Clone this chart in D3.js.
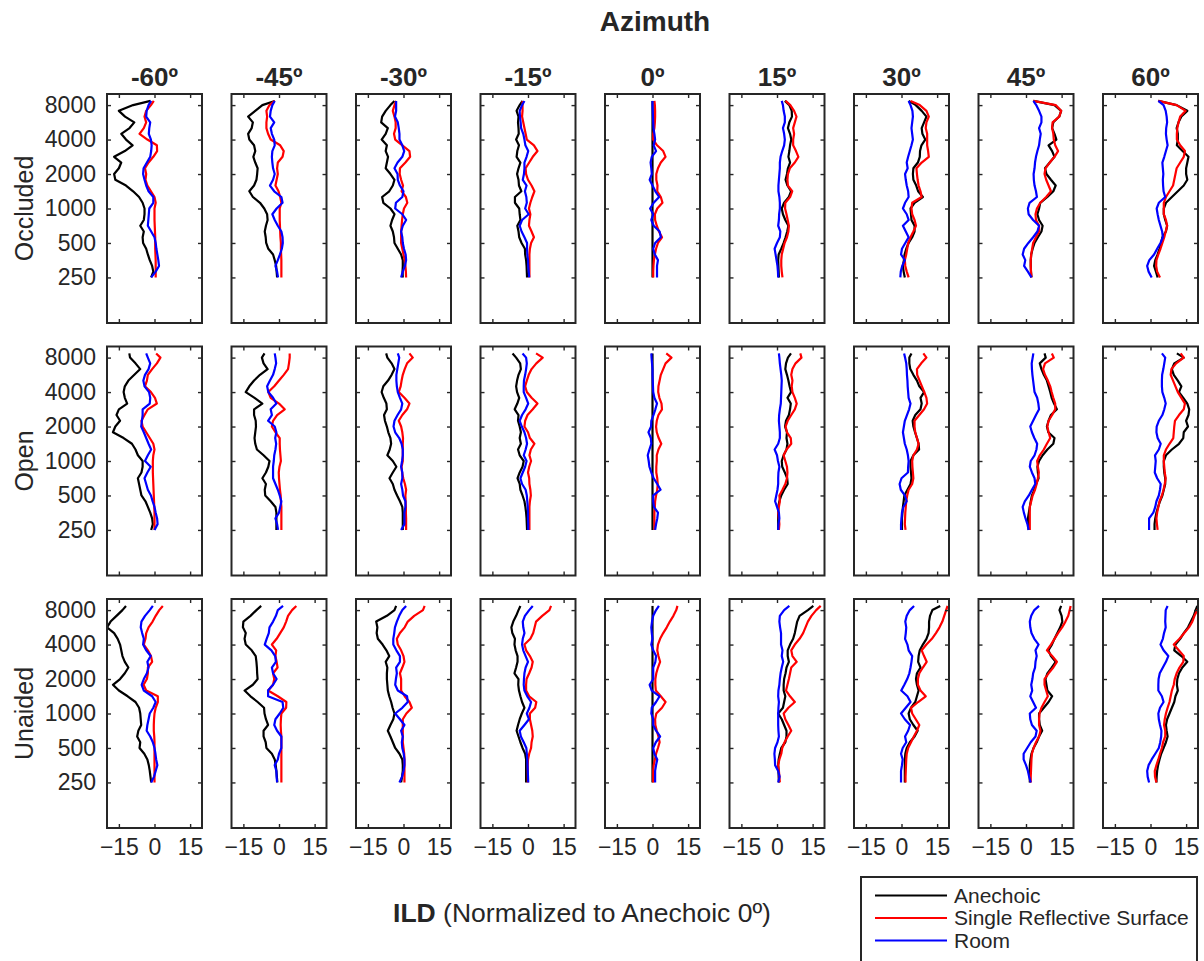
<!DOCTYPE html>
<html>
<head>
<meta charset="utf-8">
<script src="https://cdn.jsdelivr.net/npm/d3@7"></script>
<style>
  body { margin: 0; background: #fff; }
  svg { display: block; }
  text { font-family: 'Liberation Sans', Arial, Helvetica, sans-serif; fill: #262626; }
</style>
</head>
<body>
<svg id="chart" width="1204" height="961"></svg>
<script>
// Frequencies (Hz), listed from the top of each panel down to 250 Hz (1/6-octave steps)
const frequencies = [8700, 8000, 7127, 6350, 5657, 5040, 4490, 4000, 3564, 3175, 2828, 2520,
  2245, 2000, 1782, 1587, 1414, 1260, 1122, 1000, 891, 794, 707, 630, 561, 500, 445, 397, 354, 315, 281, 250];

const azimuths = ["-60º", "-45º", "-30º", "-15º", "0º", "15º", "30º", "45º", "60º"];
const conditions = ["Occluded", "Open", "Unaided"];
const environments = ["Anechoic", "Single Reflective Surface", "Room"];
const envColors = ["#000000", "#ff0000", "#0000ff"];
const xTicks = [-15, 0, 15];
const yTicks = [250, 500, 1000, 2000, 4000, 8000];

const zeros = frequencies.map(() => 0);

// ILD in dB, one array per azimuth (-60º ... 60º), same order as `frequencies`
const occludedAnechoic = [
  [-1.7,-9,-15,-12.4,-8.5,-10.5,-14,-12,-9.2,-12.5,-17,-14,-15,-17,-16.5,-12,-9,-6.5,-5,-4.2,-4.2,-4.5,-6,-4.5,-5,-4.8,-3.5,-2.8,-2,-1,-0.5,-1.4],
  [-1.8,-7,-10,-13,-11,-11.5,-13,-12.5,-10.5,-10,-10.8,-10,-9,-9.2,-9.5,-10.5,-12.5,-11,-8,-6.2,-5,-4.8,-5.5,-6,-5.6,-5.4,-4.5,-2.5,-1.8,-1.2,-1,-0.8],
  [-3.8,-5.5,-7.5,-9,-9.4,-6.6,-7.5,-9.2,-7,-7.5,-6.5,-7,-7.5,-5.5,-3.8,-4.5,-6,-9,-8.5,-5.5,-3.8,-4.8,-5.5,-4.5,-4,-3.8,-2.4,-1,-0.3,-0.3,-0.4,-0.3],
  [-2.3,-3.5,-4.8,-4,-4.2,-4,-3.9,-5,-3.8,-4.5,-4.8,-3.2,-4,-4.6,-4,-3.8,-2.8,-5.5,-5.5,-3.7,-3.5,-3.2,-4.5,-4,-3.7,-2.7,-1.3,-1.2,-0.8,-0.6,-0.5,-0.4],
  zeros,
  [3.3,5.2,6.2,6.3,5.2,4.6,5.5,6,5.5,5.2,4.8,5.5,4.6,4.2,3.6,4.4,5.9,5,3,2,2.5,3.5,4.8,4.3,3.6,2.8,1.8,0.7,0.5,0.6,0.7,0.8],
  [3,6,8.5,10.5,9.5,8.5,8.8,10,8.4,7.8,7.7,6.9,5,4.8,5,6.2,7,9,5.5,3.8,4,4.2,5.5,5.5,4.5,3,2,1.3,1,0.6,0.9,1.4],
  [3.1,12,14.8,14,11.5,11,12,12.8,9.5,11,12,10,8,8.6,10.5,12.5,11.5,9,6,5.5,4.8,5.5,7,6.5,5,3.6,2.8,2.2,2,2,2.1,2.3],
  [3.3,11,15.5,13,11.8,11,11.5,11.5,11.1,13.5,16,15.5,15,15,15.5,14,11.5,9,6.5,5.6,5.6,6.2,7,6.5,5,4.5,3.8,3,2,1.5,2.3,3]
];
const occludedReflective = [
  [-0.3,-1.5,-3.5,-4.2,-3.5,-4.5,-6.3,-3,1,1.1,-0.5,-2.5,-4,-3.5,-3.8,-3,-1.5,0,0.5,0,0,0,0.1,0.2,0.3,0.3,0.3,0.4,0.5,0.5,0.5,0.5],
  [-1.8,-4,-5.3,-5,-5.3,-5.3,-4.6,-3.5,0.5,2,1.5,-0.5,-0.8,-0.5,-1,-1.5,-0.2,0.5,1,0.3,0.3,0.3,0.4,0.5,0.6,0.8,0.8,0.9,1,1,1,1],
  [-3.1,-3.8,-4.5,-3.8,-3.3,-3.3,-4,-3.5,-0.5,2.5,2.8,0.8,-1.5,-1.6,-1,-0.2,-0.8,1,1.6,0.2,-0.3,-0.6,-0.8,-1,-1,-1,-0.5,0,0.5,0.8,1,1.1],
  [-2.3,-2.3,-2.3,-2.5,-2,-1.5,-1,-0.5,2.5,4,2,0.5,-1,-0.8,0,1.5,2.7,1.8,1,0.4,1,0.6,0.4,1.5,2.5,1.3,0.8,0.6,0.6,0.6,0.6,0.6],
  [0.8,1,1.1,1.1,1,0.8,0.3,0.3,1.9,4.5,5.5,3.5,2.3,1.6,1.6,2.1,2,3.5,4.2,2,1,1.1,1.8,2.7,4,2.3,1.5,1,0.6,0.4,0.3,0.3],
  [3.6,5.6,7.2,8.2,7.5,6.8,7.2,6.8,6.8,8,9,7.5,5.4,4.6,4.4,4.6,6.4,5.5,3.5,3.4,4,4.5,5,4.8,4.2,3.2,2.6,2,1.8,1.8,2,2.3],
  [3.8,7.7,10.5,11.5,10.5,10.2,10.8,10.8,10.8,11.2,11.5,8.5,6.3,6.5,6.8,7.2,8,8.5,4.5,4.2,4.5,5.5,6.1,5,3.8,2.8,2.4,2,1.4,1.6,2.2,3],
  [3.1,12.5,14.8,14,11.2,11,11.5,11.7,12.3,13.5,12,10,8.2,7.8,8.5,9.5,10.5,8.5,6,4.6,4,4.2,5.5,5.5,4.2,3,2.6,2.2,2,2,2.1,2.3],
  [3.3,11,14.8,12.5,11.8,11.3,11.1,11.1,12.5,14.5,14,12.5,11,10.5,10,9.5,8,6.5,5.6,5.6,5.6,6.5,7,6.4,5.8,5,4.2,3.3,2.5,2.4,2.8,4]
];
const occludedRoom = [
  [-1.4,-2.5,-3.3,-3.5,-1.8,-2.2,-2.4,-1.5,-1.2,-1.4,-1.8,-3.2,-4.6,-4.8,-4.2,-3.5,-2.5,-0.5,-0.5,-2.2,-2.4,-2.6,-2.8,-1.4,0,0.5,0.8,1.2,1.6,1.9,0.5,-1.4],
  [-1.8,-2.8,-3.5,-3.8,-2,-3.5,-3,-2,-1.8,-2.8,-3,-2.8,-2.5,-1.8,-2.5,-3.8,-2,1,1.5,-1,-2.8,-1.8,-0.5,1,1.5,1.6,1.2,0.4,-0.5,-1.5,-0.8,-0.4],
  [-3.1,-3.1,-3.1,-3.6,-2.4,-2,-1.7,-1.7,-0.5,0.3,-0.5,-2.5,-3.8,-2.5,-2.4,-1.5,0,-0.5,-3.2,-3.5,-0.5,1.1,-0.3,-1,-0.5,-0.3,0.2,0.9,1.1,0.6,-0.3,-1],
  [-1.5,-2.5,-3.5,-3.4,-3.1,-2.9,-2,-1.5,-1.1,0.1,-0.6,-1.5,-1.5,-1.7,-2.2,-0.6,-1.3,-0.7,-0.5,-1.2,0.3,-2.5,-3.5,-2.7,-1.5,-0.4,-0.4,-0.3,0,0.1,0.3,0.5],
  [0,0,0.1,0.2,0.3,0.4,0.8,1.1,0.5,1.5,-0.3,-0.8,-0.5,-0.3,-1.2,0,1.2,2.8,0.5,-1,0.3,-0.5,0.5,3,3.5,1.1,0.3,1,2.3,1.9,1.9,1.9],
  [2,2.5,2.8,3.3,3.3,2.5,3,3.3,3,2.2,1.5,1.2,1.2,1,0.8,0.6,0.6,1,1.2,1.2,0.9,0.8,0.5,1.4,1.2,0,-1,-0.6,-0.2,0.2,0.4,0.5],
  [3,3.8,4.6,4.8,4.5,4.2,4.5,4.8,4.2,3.5,2.8,2.2,2.6,1.5,1.8,2.2,2.8,3,1.5,0.6,2.2,3,0.6,1.8,3,1.6,0.2,-0.2,1.4,0.3,-0.3,-0.5],
  [3.1,4.3,5.5,6.5,6.5,5.5,6.2,5.8,5.5,4.8,4.2,3.8,3.6,3.2,3.3,3.6,4.2,4.6,1.5,0.8,1.1,3,5.5,4.8,3,1,-0.8,-1.4,-0.3,-0.8,0.8,2.3],
  [3.3,5.5,6.4,6.8,7,6.6,6.5,6.8,7.2,6.5,5.8,5,5.2,5.4,5.2,5.3,5.5,6.2,3.5,2.6,3,3.5,4.2,4.9,5.2,4.2,2.8,1.5,-0.5,-1.4,-0.8,0.5]
];

const openAnechoic = [
  [-10.6,-10.3,-8,-6,-8.5,-11,-12.5,-13,-12.5,-11.5,-15,-16,-14.5,-16.5,-17.5,-13,-9.5,-8,-7,-5,-5,-5.5,-7,-6.5,-6,-5.5,-3.8,-2.8,-1.8,-1,-0.7,-1.4],
  [-6.1,-7.2,-6.5,-4.8,-8,-10.5,-12.5,-14,-10.3,-7,-10.5,-10.5,-9.8,-9.7,-10,-10.3,-10,-9.3,-6.5,-4,-4.5,-5.5,-7,-5.5,-6,-5.8,-3.5,-1.5,-1.1,-1.1,-1.1,-1.1],
  [-7.3,-6.8,-5,-3.8,-5,-6.5,-8.5,-9.2,-8.3,-7.2,-7,-8.2,-7.8,-7,-6.4,-5.5,-5.2,-5.8,-6.8,-4.5,-3,-4.5,-5.9,-4.5,-3.8,-2.7,-1.5,-0.5,-0.3,-0.3,-0.3,-0.3],
  [-6.5,-5,-3.3,-3,-4,-4.6,-5,-4.6,-3.7,-4.5,-5.6,-4,-4.2,-3.5,-3,-3.5,-3,-4.2,-3.5,-1.8,-2.3,-3.5,-4.4,-3.5,-3.2,-2.3,-1.5,-1.1,-0.8,-0.6,-0.5,-0.4],
  zeros,
  [5.9,4.6,3.8,3.5,4.2,4.8,5.3,5.9,4.4,5.8,5.5,5,3.8,3.4,4.2,4,4.4,4,2.8,2,2.2,3.3,4.3,4.5,3,1.8,1,0.5,0.5,0.5,0.5,0.5],
  [4.2,3.3,3.3,3.7,5,6.5,7.5,9.5,8,8.5,8,5.8,4.7,5,5.7,6.5,7.2,7.4,5,3.8,3.8,4,4.2,3.8,2.5,1.2,0.9,0.6,0.4,0.2,0.2,0.2],
  [7.8,8.3,5.8,6.5,7.5,8.8,9.5,10.2,10.8,11.8,13,10.5,9.5,8.8,9.4,12,11.5,9,7,5.5,4.8,5,5.3,4.2,3.5,2.5,2,1.6,1.2,0.8,1,1.1],
  [11.1,14,10,9,9.8,11.5,13,12,13.8,15.5,16.3,16,15,15.8,14,13.8,12,9,6.5,5.6,5.6,5.8,6.2,6.2,5.6,5,4,3.2,2.5,2,1.7,1.7]
];
const openReflective = [
  [0.7,2.5,1,-1,-2.8,-3.2,-4,-1.5,0.2,1,-2.8,-4.2,-5.5,-5,-3.5,-2,-0.5,0,-0.5,-0.7,-0.7,-0.7,-0.6,-0.5,-0.4,-0.3,-0.2,-0.1,0,0,0,0],
  [4.5,4.5,4.2,3.8,2,0,-2,-4.5,-3.5,0,2.4,-0.8,-2.5,-3,-1.5,0.3,0.3,0.4,0.6,0.8,0.2,-0.1,0,0.2,0.4,0.7,0.8,1,1,1,1,1],
  [2.5,3.9,1.5,0.5,-0.3,-0.8,-1.2,-2,0.4,2.5,1.5,-0.5,-2,-1,-0.5,-0.2,-0.3,-0.3,-0.3,-0.3,-0.8,-0.6,-0.1,0.6,1.1,0.8,0.9,1,1,1.1,1.1,1.1],
  [3.4,6.2,3.5,1.5,0.3,-0.5,-1.2,-0.5,1.5,4,2,-0.2,-1.2,-1.5,0,0.8,2.7,1.2,0.6,1.3,0.5,0,0.5,0.6,1,1.2,0.8,0.6,0.6,0.6,0.6,0.6],
  [5.8,8,5.5,4.5,3.5,3,2.5,2.4,2.9,3.8,4,2.5,1.8,1.5,1.8,2.6,3.7,2.5,1.8,1.8,1.6,1.6,2,2.2,2,1.5,1.1,1,0.8,0.8,0.8,0.8],
  [9.8,10.3,7.8,6.5,6,6.5,6.2,6.5,7.5,8.3,7.5,6,4.5,3.6,4.2,5.8,6,4,2.8,3.5,4.2,4.4,4.2,3.5,2.3,1,1.2,0.8,0.5,0.8,1,0.8],
  [9.2,10.5,8.3,6.5,6.6,7.6,8.6,9.6,10.5,10.8,9.5,7.5,5.5,5.5,5.8,6.5,7.2,6.5,5,4.5,4.6,4.8,5,4.5,3,2.4,2,1.8,1.6,1.5,1.4,1.7],
  [10.9,11.7,8,7.2,8,9.2,10.2,10.8,11.5,12.3,12.3,11,9.5,9,9.5,10.2,8.8,7.5,5.8,4.7,5,5.4,5,4.5,3.8,2.8,2.2,1.6,1.6,1.6,1.6,1.6],
  [12.7,14,10.8,8.8,8.5,9.5,10.5,11.5,13,14.5,14,12,10.3,10,9.8,9.6,8,6.5,5.6,5.6,5.8,6,6.4,6,5.5,4.8,3.8,3.3,2.8,2.5,2.7,3]
];
const openRoom = [
  [-3.5,-2.8,-1.8,-2.5,-4,-4.7,-4.2,-2.3,-1.8,-2,-5,-5,-5.3,-5.6,-4.5,-3.5,-2.5,-1.4,-2.8,-4,-1.6,-3,-4.2,-3.5,-2.8,-1.5,-0.8,0,0.5,1.1,1.3,0],
  [-1.8,-1.5,-1.2,-1.8,-2.5,-3.8,-5,-4.5,-2.5,-1.1,-3.5,-3,-4.6,-1.8,-1.1,-1.6,-1.2,-1.5,-2,-2.2,-2.5,-2.5,-2.5,-1.5,-0.5,0.3,1,0.5,0,-1.5,-0.8,-0.4],
  [-2.4,-1.8,-2.2,-2.6,-3,-3,-2.8,-2.4,-1.5,-0.5,-1,-2.5,-3.8,-4.2,-3.5,-1.8,-0.8,-0.3,-0.3,-0.6,-1,-0.5,-0.5,-1,-0.5,-0.2,0.8,0.8,0.4,0.4,0.4,-1],
  [-2.3,-0.8,-0.5,-0.8,-1.2,-1.7,-1.8,-1.8,-0.8,0.1,-1,-2.5,-3.5,-2.6,-1.5,-0.8,-0.4,-1,-1.8,-0.6,-1.2,-2.2,-3.2,-2.5,-1,-0.5,-0.3,-0.1,0,0,0.1,0.1],
  [-0.5,-0.4,-0.2,0,0,0.1,0.2,0.3,0.8,1.9,1.2,0.4,-0.5,-0.6,-1.7,-0.7,-0.5,-1.3,-2,-1.6,-1.3,-0.5,0.5,2,3.4,0.3,0.3,0.6,2.3,2,1.5,1.1],
  [0.8,1,1.2,1.5,1.8,2,1.9,1.8,1.7,1.6,1.2,0.9,0.8,1,1.2,1.2,0.5,-1,0,0.4,1,0.6,0.5,0.5,0.2,-0.3,-0.8,0,0.8,1,0.6,0.5],
  [1.1,1.5,2,2.2,2.3,2.5,2.6,2.8,3,3.8,3.2,2.3,1.4,1,0.6,1,1.4,2.2,2.7,3,2.8,2.7,0,-0.8,-0.3,1.4,2.2,0.8,0.2,0,-0.2,-0.2],
  [3.1,2.8,2.4,2.5,2.7,3,3.3,3.6,4.7,5.2,5.5,4.2,3,1.8,2.5,3.5,4.7,4.4,3.6,2,1.6,2.5,3.6,3.9,2.5,1.2,-0.5,-1.4,-0.9,-0.2,0.6,1.1],
  [4.8,6.2,5.8,5.4,4.9,4.8,4.8,5,5.8,6.4,5.8,5,3.5,2.6,2.5,3,4.3,3.5,1.9,2.2,2,1.8,2.8,4.3,4,3.5,2.5,2,1.2,-0.6,-0.6,-0.6]
];

const unaidedAnechoic = [
  [-12,-13.5,-16,-18.5,-20,-17,-15.5,-14.5,-14,-13.5,-12.5,-11,-12.5,-14.5,-17.5,-15,-11.3,-8,-6.5,-6,-5.8,-5.6,-6.8,-7.3,-6,-6.3,-4.3,-3,-2.4,-2,-1.7,-1.4],
  [-7.5,-9.5,-12,-15,-15.2,-14,-14.5,-14,-11.5,-9.8,-9.5,-9.3,-9.2,-9,-11,-14.5,-12,-9,-6.3,-6.1,-5.5,-4.6,-6.5,-6.5,-5.6,-5.3,-3,-1.8,-1.4,-1.1,-0.9,-0.7],
  [-3.1,-3.8,-7,-11.5,-11,-11.3,-10.8,-8.8,-7.2,-6,-7.5,-6.8,-7,-7,-6.8,-6.6,-6,-5.2,-4.6,-3.8,-4.3,-5.5,-6.6,-5.5,-4.5,-3.5,-1.7,-0.5,-0.3,-0.3,-0.6,-1],
  [-3.2,-4,-5,-6.2,-7,-6.6,-5.5,-5.7,-5.2,-4.4,-4.4,-5,-5.7,-4,-4.1,-3.8,-3.2,-2.5,-1.5,-2.6,-3.5,-4.2,-4.8,-4,-3.2,-2.3,-1.2,-0.8,-0.8,-0.8,-0.8,-0.8],
  zeros,
  [15.3,13,9.5,8.5,8,7.5,6.8,5.5,4.5,4.5,5,4,3.6,3,2.8,2.8,3.5,3,2.5,0.5,2,3,4,4,3.5,1.8,1.2,0.7,0.5,0.6,0.7,0.8],
  [16.3,13,12,11.6,11.6,11.4,10.5,9,7.7,7.2,7,8,6.5,6.1,6.5,7.2,6.5,5.8,4,3,3.5,5,6.8,5.5,3.5,2.2,1.6,1.4,1.4,1.4,1.4,1.4],
  [14.8,14.1,15,15.3,14.4,13.2,12,10.9,9.4,10.5,12.5,10.8,9,8.2,8.6,9,11,9.5,7.5,5.5,5.5,5.8,6.8,5.5,4.5,3.2,2.3,1.9,1.6,1.6,1.6,1.6],
  [19.7,19,18.2,17,15.8,14,12.5,10.5,10,13,15.5,13.4,12,11.3,11.1,11.5,10.5,10,9,8,7,6.5,6.8,7.2,6.5,5.5,4.5,3.8,3.2,2.8,2.6,2.5]
];
const unaidedReflective = [
  [3.5,2,0.5,-0.8,-2.5,-3.5,-3.8,-4.5,-2.8,-1.5,-1,-2.8,-2.8,-3.2,-4.6,-3.5,1.4,1.4,0.5,0,-0.2,-0.3,-0.3,-0.1,0,0,0,0,0,0,0,0],
  [7.3,5.5,3.8,3,2,0.5,-1,-3,-1.2,-1.5,-1,-0.6,-2.5,-2,-2.5,-4.6,-0.5,3.1,3,1,0.8,0.7,0.8,1,1,1,1,1,1,1,1,1],
  [8.9,8.2,4.5,1.8,0.5,-1.5,-2.8,-2.4,-1,0,0.4,-0.5,-1.5,-1,-1,-1,0.5,2.5,3.5,1.2,-0.3,-0.3,-0.3,-0.3,-0.3,0,0.3,0.4,0.4,0.4,0.4,0.4],
  [9.7,9,6,3.4,2.8,2.2,1,-1.5,-0.8,0.8,2,1.5,0.5,-0.6,-0.8,-0.8,0.5,3.5,3,0.8,0.8,1.3,1.8,2,1.5,1.3,0.5,0,-0.1,-0.1,-0.1,-0.1],
  [10.5,10,8.8,7.3,6,4.5,3.2,2.3,2,2.5,3.2,2.3,1.6,1.2,1.2,1.4,3.5,5.5,4,1.6,1.1,1.2,1.8,2.5,3,2.3,1.5,1,0.5,0.3,0.3,0.3],
  [18.4,16.5,14.5,13,12,11,9.5,7.5,6,6.5,8.3,6,5.5,5,4.4,3.8,5.5,7.5,4.8,2.8,3.5,4.8,6,4.5,3.2,2.2,1.8,1,0.5,0.8,1,1.2],
  [19.4,18.8,18,17.2,16,14.5,12.8,10.5,8.5,9.5,10.6,9,7.5,6.9,6.9,8,10.2,7,4,4.5,6,7.5,6.5,5.2,4,2.8,2.2,2,1.9,1.8,1.7,1.7],
  [18.8,18.4,17.8,16.6,15.2,13.5,12,10.5,8.8,11,13,11.5,9.5,7.8,7.8,8.5,9.2,7.8,6.5,5.7,5.5,5.5,6.1,5.5,4.2,3.2,2.5,2.3,2.2,2.1,2,2],
  [20.5,19.7,18.5,17.6,16.2,14.2,12.2,9.8,11.9,14,13.8,12.2,11,10.2,9.8,9,8.5,8,7.2,6.5,6,5.7,6.2,6.2,5.3,4.8,4,3.3,2.5,1.8,1.9,2.5]
];
const unaidedRoom = [
  [-0.7,-2,-4,-5.5,-5.8,-5.2,-4.5,-4.8,-3.5,-1.6,-3,-2.5,-3.2,-4.5,-5.4,-4.5,-1,0.5,-0.5,-2,-2.5,-3,-3.3,-1.8,-0.7,0,0.4,0.7,1.2,0.5,-0.2,-1.4],
  [1.7,-0.5,-1.3,-2.5,-4,-4.3,-5.2,-6,-3.2,-1.6,-1.3,-3,-2.5,-1,-2.5,-4.6,-4.6,1.5,1.8,0.3,-1.5,-2,-0.8,1,1,1,0,-0.5,-1.8,-1.1,-1,-0.8],
  [1.1,-0.5,-1.8,-2.8,-3.6,-3.9,-4.3,-4.3,-3,-1.5,-1.5,-3.1,-2.8,-3.2,-3.5,-2.4,1.5,1.8,-0.5,-3.5,-1.5,0.4,-1,-0.3,-0.7,-0.5,0.1,0.4,0.4,0,-0.6,-1.7],
  [2,0.5,-1.3,-2.2,-2,-1.5,-2.2,-2.5,-2,-1,0,-1,-1.5,-1.7,-1.8,-1.5,-0.3,1.3,0.6,-0.5,0.4,-1.5,-3.5,-3,-1.8,-0.7,-0.5,-0.3,-0.2,-0.1,0,0.1],
  [2.7,1.5,0.3,-0.2,-0.5,-0.3,0,-0.5,0.3,1.5,1.2,0.3,0.3,0.3,-1.2,-0.3,3,1.5,-0.3,-0.5,0.3,0.3,1.5,3.2,1.4,0.3,0.8,2,1.5,1.1,1.1,1.1],
  [5.2,3,1.2,1,1.3,1.7,1.7,1.7,2.3,2,2.6,2,1.5,1.2,1,0.6,0.5,0.8,0.6,0.5,0.5,0.5,0.6,0.8,0.2,-0.8,-1.1,-0.9,-0.8,0.5,1.1,0.5],
  [5.3,3.5,2.2,1.6,2,1.8,1.5,2.5,3,4.5,4.2,3.8,3.3,2.4,1.2,-0.1,2.5,3.8,1.8,-0.2,1.4,3.6,2.8,1.5,2,0.5,-0.2,0.5,0.2,-0.2,-0.2,-0.2],
  [5.5,3.5,2.2,1.6,1.8,2.3,3.5,5.3,4,4.5,4,3.8,3,2.7,2.2,2.6,1.8,3,4.2,1.6,1.8,2.5,4.5,4,2,0.5,-1,-1,0,0.8,1.3,2],
  [7.2,6.4,6.3,6.2,6.4,5.7,5.2,4.2,5.5,7.5,6.5,5.2,3.9,3.4,3.3,3.3,4.8,5.5,4,3.3,3.5,4,4.6,4.5,4.1,3.5,2,0.5,-0.8,-1.4,-1.2,-0.6]
];

// condition -> [anechoic, reflective, room]
const ildByCondition = {
  Occluded: [occludedAnechoic, occludedReflective, occludedRoom],
  Open: [openAnechoic, openReflective, openRoom],
  Unaided: [unaidedAnechoic, unaidedReflective, unaidedRoom]
};

// ---- layout ----
const svg = d3.select("#chart");
const panelW = 95, panelH = 229;
const colLeft = c => 107 + c * 124.5;
const rowTop = r => 94 + r * 252.5;
const axisColor = "#262626";

const x = d3.scaleLinear().domain([-20, 20]).range([0, panelW]);
const y = d3.scaleLog().domain([100, 10000]).range([panelH, 0]);

svg.append("defs").append("clipPath").attr("id", "panel-clip")
  .append("rect").attr("x", 0).attr("y", 0).attr("width", panelW).attr("height", panelH);

const line = d3.line()
  .x(d => x(d[1]))
  .y(d => y(d[0]));

function styleAxis(g) {
  g.select(".domain").remove();
  g.selectAll(".tick line").attr("stroke", axisColor).attr("stroke-width", 1.4);
  g.selectAll(".tick text").attr("fill", axisColor)
    .style("font-family", "'Liberation Sans', Arial, Helvetica, sans-serif")
    .style("font-size", "23px");
}

conditions.forEach((cond, r) => {
  azimuths.forEach((az, c) => {
    const g = svg.append("g").attr("transform", `translate(${colLeft(c)},${rowTop(r)})`);

    const plot = g.append("g").attr("clip-path", "url(#panel-clip)");
    ildByCondition[cond].forEach((seriesSet, s) => {
      const pts = frequencies.map((f, i) => [f, seriesSet[c][i]]);
      plot.append("path")
        .attr("d", line(pts))
        .attr("fill", "none")
        .attr("stroke", envColors[s])
        .attr("stroke-width", 2.2)
        .attr("stroke-linejoin", "round");
    });

    // ticks on all four sides, pointing inwards
    g.append("g")
      .call(d3.axisLeft(y).tickValues(yTicks).tickSize(-4).tickPadding(11)
        .tickFormat(c === 0 ? d3.format("d") : () => ""))
      .call(styleAxis);
    g.append("g").attr("transform", `translate(${panelW},0)`)
      .call(d3.axisRight(y).tickValues(yTicks).tickSize(-4).tickFormat(() => ""))
      .call(styleAxis);
    g.append("g").attr("transform", `translate(0,${panelH})`)
      .call(d3.axisBottom(x).tickValues(xTicks).tickSize(-4).tickPadding(11)
        .tickFormat(r === conditions.length - 1 ? d3.format("d") : () => ""))
      .call(styleAxis);
    g.append("g")
      .call(d3.axisTop(x).tickValues(xTicks).tickSize(-4).tickFormat(() => ""))
      .call(styleAxis);

    g.append("rect")
      .attr("width", panelW).attr("height", panelH)
      .attr("fill", "none").attr("stroke", axisColor).attr("stroke-width", 2);

    if (r === 0) {
      svg.append("text")
        .attr("x", colLeft(c) + panelW / 2).attr("y", 86)
        .attr("text-anchor", "middle")
        .style("font-size", "26px").style("font-weight", "bold")
        .attr("fill", "#000")
        .text(az);
    }
  });

  svg.append("text")
    .attr("transform", `translate(33,${rowTop(r) + panelH / 2}) rotate(-90)`)
    .attr("text-anchor", "middle")
    .style("font-size", "25px")
    .text(cond);
});

// titles
svg.append("text")
  .attr("x", 655).attr("y", 31)
  .attr("text-anchor", "middle")
  .style("font-size", "28px").style("font-weight", "bold")
  .text("Azimuth");

const xLabel = svg.append("text")
  .attr("x", 582).attr("y", 922)
  .attr("text-anchor", "middle")
  .style("font-size", "26.5px");
xLabel.append("tspan").style("font-weight", "bold").text("ILD");
xLabel.append("tspan").text(" (Normalized to Anechoic 0º)");

// legend
const legend = svg.append("g").attr("transform", "translate(861,877)");
legend.append("rect")
  .attr("width", 336).attr("height", 110)
  .attr("fill", "#fff").attr("stroke", axisColor).attr("stroke-width", 2);
environments.forEach((name, i) => {
  const ly = 18.5 + i * 22.5;
  legend.append("line")
    .attr("x1", 14).attr("x2", 86).attr("y1", ly).attr("y2", ly)
    .attr("stroke", envColors[i]).attr("stroke-width", 2);
  legend.append("text")
    .attr("x", 93).attr("y", ly).attr("dy", "0.35em")
    .style("font-size", "21px").attr("fill", "#000")
    .text(name);
});
</script>
</body>
</html>
